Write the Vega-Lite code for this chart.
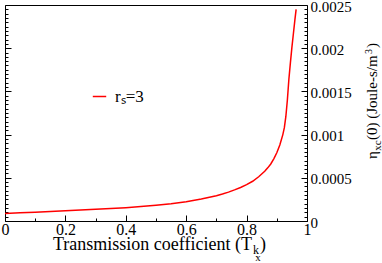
{
  "$schema": "https://vega.github.io/schema/vega-lite/v6.json",
  "autosize": "none",
  "width": 302,
  "height": 216,
  "padding": {"left": 5, "top": 5, "right": 75, "bottom": 42},
  "background": "white",
  "data": {
    "values": [
      {"T": 0, "eta": 0.000088, "series": "rₛ=3"},
      {"T": 0.05, "eta": 0.000095, "series": "rₛ=3"},
      {"T": 0.1, "eta": 0.000102, "series": "rₛ=3"},
      {"T": 0.15, "eta": 0.00011, "series": "rₛ=3"},
      {"T": 0.2, "eta": 0.000118, "series": "rₛ=3"},
      {"T": 0.25, "eta": 0.000126, "series": "rₛ=3"},
      {"T": 0.3, "eta": 0.000135, "series": "rₛ=3"},
      {"T": 0.35, "eta": 0.000144, "series": "rₛ=3"},
      {"T": 0.4, "eta": 0.000154, "series": "rₛ=3"},
      {"T": 0.45, "eta": 0.000167, "series": "rₛ=3"},
      {"T": 0.5, "eta": 0.000182, "series": "rₛ=3"},
      {"T": 0.55, "eta": 0.0002, "series": "rₛ=3"},
      {"T": 0.6, "eta": 0.000223, "series": "rₛ=3"},
      {"T": 0.65, "eta": 0.000254, "series": "rₛ=3"},
      {"T": 0.7, "eta": 0.000293, "series": "rₛ=3"},
      {"T": 0.72, "eta": 0.000312, "series": "rₛ=3"},
      {"T": 0.74, "eta": 0.000334, "series": "rₛ=3"},
      {"T": 0.76, "eta": 0.00036, "series": "rₛ=3"},
      {"T": 0.78, "eta": 0.000388, "series": "rₛ=3"},
      {"T": 0.8, "eta": 0.000421, "series": "rₛ=3"},
      {"T": 0.82, "eta": 0.00046, "series": "rₛ=3"},
      {"T": 0.84, "eta": 0.000512, "series": "rₛ=3"},
      {"T": 0.86, "eta": 0.000575, "series": "rₛ=3"},
      {"T": 0.87, "eta": 0.000615, "series": "rₛ=3"},
      {"T": 0.88, "eta": 0.00066, "series": "rₛ=3"},
      {"T": 0.89, "eta": 0.00072, "series": "rₛ=3"},
      {"T": 0.9, "eta": 0.00079, "series": "rₛ=3"},
      {"T": 0.91, "eta": 0.00088, "series": "rₛ=3"},
      {"T": 0.92, "eta": 0.001, "series": "rₛ=3"},
      {"T": 0.925, "eta": 0.00108, "series": "rₛ=3"},
      {"T": 0.93, "eta": 0.00121, "series": "rₛ=3"},
      {"T": 0.935, "eta": 0.0014, "series": "rₛ=3"},
      {"T": 0.94, "eta": 0.00164, "series": "rₛ=3"},
      {"T": 0.945, "eta": 0.00183, "series": "rₛ=3"},
      {"T": 0.95, "eta": 0.00201, "series": "rₛ=3"},
      {"T": 0.955, "eta": 0.00217, "series": "rₛ=3"},
      {"T": 0.96, "eta": 0.00233, "series": "rₛ=3"},
      {"T": 0.964, "eta": 0.00245, "series": "rₛ=3"}
    ]
  },
  "resolve": {"axis": {"x": "independent", "y": "independent"}},
  "layer": [
    {
      "mark": {"type": "line", "strokeWidth": 1.5},
      "encoding": {
        "x": {
          "field": "T", "type": "quantitative",
          "scale": {"domain": [0, 1], "nice": false, "zero": false},
          "axis": {
            "orient": "bottom", "values": [0, 0.2, 0.4, 0.6, 0.8, 1], "format": "~g",
            "ticks": false, "tickSize": 0, "labelFontSize": 16, "labelPadding": 0, "labelBaseline": "top", "labelFlush": false,
            "title": "Transmission coefficient (T\u2009\u00a0)", "titleFontSize": 18,
            "titleX": 154, "titleY": 28, "titleAlign": "center", "titleBaseline": "alphabetic"
          }
        },
        "y": {
          "field": "eta", "type": "quantitative",
          "scale": {"domain": [0, 0.0025], "nice": false},
          "axis": {
            "orient": "right", "values": [0, 0.0005, 0.001, 0.0015, 0.002, 0.0025], "format": "~g",
            "ticks": false, "tickSize": 0, "labelFontSize": 15, "labelPadding": 3, "labelOffset": 1, "labelAlign": "left", "labelBaseline": "middle", "labelFlush": false,
            "title": "η\u00a0\u00a0\u00a0(0) (Joule-s/m\u00a0\u00a0)", "titleFontSize": 15, "titleAngle": 270,
            "titleX": 69, "titleY": 95.5, "titleAlign": "center", "titleBaseline": "alphabetic"
          }
        },
        "color": {
          "field": "series", "type": "nominal",
          "scale": {"range": ["#ff0000"]},
          "legend": {
            "orient": "none", "legendX": 86, "legendY": 83, "title": null, "padding": 0,
            "symbolType": "stroke", "symbolSize": 180, "symbolStrokeWidth": 1.5,
            "labelFont": "Liberation Serif, Times New Roman, serif", "labelFontSize": 17, "labelOffset": 7, "labelColor": "#000"
          }
        }
      }
    },
    {
      "mark": {"type": "line", "opacity": 0},
      "encoding": {
        "x": {
          "field": "T", "type": "quantitative",
          "axis": {
            "orient": "bottom", "values": [0, 0.2, 0.4, 0.6, 0.8, 1], "labels": false, "tickSize": -6,
            "title": "k", "titleFontSize": 12, "titleX": 250.5, "titleY": 32, "titleAlign": "center", "titleBaseline": "alphabetic"
          }
        },
        "y": {
          "field": "eta", "type": "quantitative",
          "axis": {"orient": "right", "values": [0, 0.0005, 0.001, 0.0015, 0.002, 0.0025], "labels": false, "tickSize": -6, "title": null}
        }
      }
    },
    {
      "mark": {"type": "line", "opacity": 0},
      "encoding": {
        "x": {
          "field": "T", "type": "quantitative",
          "axis": {
            "orient": "bottom", "values": [0.1, 0.3, 0.5, 0.7, 0.9], "labels": false, "tickSize": -3,
            "title": "x", "titleFontSize": 11, "titleX": 252.5, "titleY": 39.5, "titleAlign": "center", "titleBaseline": "alphabetic"
          }
        },
        "y": {
          "field": "eta", "type": "quantitative",
          "axis": {
            "orient": "right", "labels": false, "tickSize": -3, "title": null,
            "values": [0.00005,0.0001,0.00015,0.0002,0.00025,0.0003,0.00035,0.0004,0.00045,0.00055,0.0006,0.00065,0.0007,0.00075,0.0008,0.00085,0.0009,0.00095,0.00105,0.0011,0.00115,0.0012,0.00125,0.0013,0.00135,0.0014,0.00145,0.00155,0.0016,0.00165,0.0017,0.00175,0.0018,0.00185,0.0019,0.00195,0.00205,0.0021,0.00215,0.0022,0.00225,0.0023,0.00235,0.0024,0.00245]
          }
        }
      }
    },
    {
      "mark": {"type": "line", "opacity": 0},
      "encoding": {
        "x": {
          "field": "T", "type": "quantitative",
          "axis": {
            "orient": "top", "labels": false, "ticks": false, "tickSize": 0,
            "title": "xc", "titleFontSize": 11, "titleAngle": 270, "titleX": 375.5, "titleY": 140, "titleAlign": "center", "titleBaseline": "alphabetic"
          }
        },
        "y": {
          "field": "eta", "type": "quantitative",
          "axis": {
            "orient": "left", "values": [0, 0.0005, 0.001, 0.0015, 0.002, 0.0025], "labels": false, "tickSize": -6,
            "title": "3", "titleFontSize": 10, "titleAngle": 270, "titleX": 366, "titleY": 46, "titleAlign": "center", "titleBaseline": "alphabetic"
          }
        }
      }
    },
    {
      "mark": {"type": "line", "opacity": 0},
      "encoding": {
        "x": {"field": "T", "type": "quantitative", "axis": null},
        "y": {
          "field": "eta", "type": "quantitative",
          "axis": {
            "orient": "left", "labels": false, "tickSize": -3, "title": null,
            "values": [0.00005,0.0001,0.00015,0.0002,0.00025,0.0003,0.00035,0.0004,0.00045,0.00055,0.0006,0.00065,0.0007,0.00075,0.0008,0.00085,0.0009,0.00095,0.00105,0.0011,0.00115,0.0012,0.00125,0.0013,0.00135,0.0014,0.00145,0.00155,0.0016,0.00165,0.0017,0.00175,0.0018,0.00185,0.0019,0.00195,0.00205,0.0021,0.00215,0.0022,0.00225,0.0023,0.00235,0.0024,0.00245]
          }
        }
      }
    }
  ],
  "config": {
    "view": {"stroke": "#000", "strokeWidth": 1},
    "axis": {
      "grid": false, "domain": false, "tickColor": "#000", "tickWidth": 1,
      "labelColor": "#000", "titleColor": "#000",
      "labelFont": "Liberation Serif, Times New Roman, serif", "titleFont": "Liberation Serif, Times New Roman, serif", "titleFontWeight": "normal"
    }
  }
}
